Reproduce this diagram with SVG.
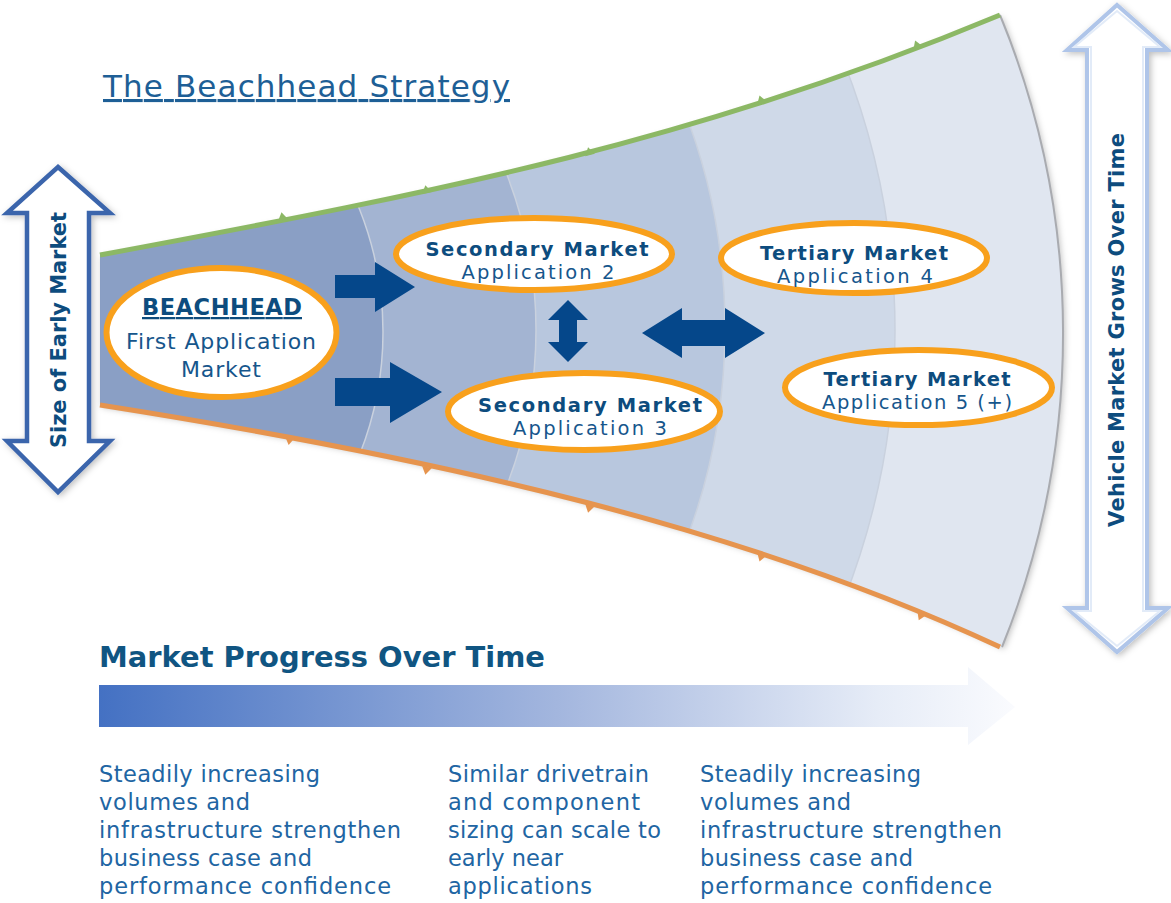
<svg xmlns="http://www.w3.org/2000/svg" width="1171" height="903" viewBox="0 0 1171 903">
<defs>
<style>
.node{fill:#fff;stroke:#f8a01c;stroke-width:6}
.bold{font-family:"DejaVu Sans","Liberation Sans",sans-serif;font-weight:700;fill:#0d4c7e;text-anchor:middle}
.reg{font-family:"DejaVu Sans","Liberation Sans",sans-serif;font-weight:400;fill:#16568c;text-anchor:middle}
.body{font-family:"DejaVu Sans","Liberation Sans",sans-serif;font-size:22.5px;fill:#2165a3}
.conn{fill:#05478a}
.div{stroke:#c9d1de;stroke-width:1.5}
.tickg{fill:#8cb865}
.ticko{fill:#e6944e}
</style>
<clipPath id="fclip"><path d="M100,255 C450,190 700,140 1000,15 A836,836 0 0 1 1002,647 C750,530 450,460 100,405 Z"/></clipPath>
<linearGradient id="prog" gradientUnits="userSpaceOnUse" x1="99" y1="0" x2="1015" y2="0">
<stop offset="0" stop-color="#4471c3"/>
<stop offset="0.5" stop-color="#a3b6de"/>
<stop offset="0.85" stop-color="#e6ecf7"/>
<stop offset="1" stop-color="#fafbfe"/>
</linearGradient>
<filter id="sh" x="-30%" y="-10%" width="160%" height="120%">
<feDropShadow dx="2" dy="2" stdDeviation="3" flood-color="#000" flood-opacity="0.25"/>
</filter>
</defs>
<rect width="1171" height="903" fill="#fff"/>

<text x="103" y="97" font-family="'DejaVu Sans','Liberation Sans',sans-serif" font-size="31" fill="#1e5f96" text-decoration="underline" textLength="407" lengthAdjust="spacing">The Beachhead Strategy</text>

<g id="funnel">
<path d="M100,255 C450,190 700,140 1000,15 A836,836 0 0 1 1002,647 C750,530 450,460 100,405 Z" fill="#e0e6f0" filter="url(#sh)"/>
<g clip-path="url(#fclip)">
<circle cx="162" cy="331" r="733" fill="#cfd9e8" class="div"/>
<circle cx="124" cy="328" r="601" fill="#b8c7de" class="div"/>
<circle cx="107" cy="330" r="429" fill="#a3b4d2" class="div"/>
<circle cx="50" cy="332" r="333" fill="#8a9fc5" class="div"/>
</g>
<path d="M1000,15 A836,836 0 0 1 1002,647" fill="none" stroke="#a9abb0" stroke-width="2"/>
<path d="M100,255 C450,190 700,140 1000,15" fill="none" stroke="#8cb865" stroke-width="5"/>
<path d="M100,405 C450,460 750,530 1000,647" fill="none" stroke="#e6944e" stroke-width="5"/>
<g class="tickg">
<polygon points="-5,0 5,0 0,-8" transform="translate(283,220) rotate(-11)"/>
<polygon points="-5,0 5,0 0,-8" transform="translate(427,193) rotate(-12)"/>
<polygon points="-5,0 5,0 0,-8" transform="translate(590,155) rotate(-14)"/>
<polygon points="-5,0 5,0 0,-8" transform="translate(762,103) rotate(-18)"/>
<polygon points="-5,0 5,0 0,-8" transform="translate(918,48) rotate(-21)"/>
</g>
<g class="ticko">
<polygon points="-5,0 5,0 0,8" transform="translate(290,437) rotate(10)"/>
<polygon points="-5,0 5,0 0,8" transform="translate(427,467) rotate(12)"/>
<polygon points="-5,0 5,0 0,8" transform="translate(590,505) rotate(14)"/>
<polygon points="-5,0 5,0 0,8" transform="translate(762,554) rotate(18)"/>
<polygon points="-5,0 5,0 0,8" transform="translate(922,613) rotate(24)"/>
</g>
</g>

<g id="size-arrow">
<path d="M58,167 L110,213 L89,213 L89,441 L110,441 L58,492 L7,441 L27,441 L27,213 L7,213 Z" fill="#fff" stroke="#3b65ac" stroke-width="4.5" stroke-linejoin="miter" filter="url(#sh)"/>
<text transform="translate(66,330) rotate(-90)" x="0" y="0" class="bold" font-size="21" fill="#0d4f7c" textLength="236" lengthAdjust="spacing">Size of Early Market</text>
</g>

<g id="vehicle-arrow">
<path d="M1117,5 L1168,50 L1147,50 L1147,608 L1168,608 L1117,652 L1067,608 L1087,608 L1087,50 L1067,50 Z" fill="#fff" stroke="#afc5e9" stroke-width="4" filter="url(#sh)"/>
<path d="M1117,11 L1160,47 L1143,47 L1143,611 L1160,611 L1117,646 L1074,611 L1091,611 L1091,47 L1074,47 Z" fill="none" stroke="#e2ebf8" stroke-width="2"/>
<text transform="translate(1124,330) rotate(-90)" x="0" y="0" class="bold" font-size="21" fill="#0d4f7c" textLength="394" lengthAdjust="spacing">Vehicle Market Grows Over Time</text>
</g>

<g id="connectors">
<path class="conn" d="M335,275 L375,275 L375,262 L415,287 L375,312 L375,298 L335,298 Z"/>
<path class="conn" d="M335,378 L390,378 L390,362 L442,392 L390,423 L390,406 L335,406 Z"/>
<path class="conn" d="M568,300 L588,320 L577,320 L577,342 L588,342 L568,362 L548,342 L559,342 L559,320 L548,320 Z"/>
<path class="conn" d="M642,333 L682,308 L682,320 L725,320 L725,308 L765,333 L725,358 L725,346 L682,346 L682,358 Z"/>
</g>

<g id="beachhead">
<ellipse class="node" cx="221.5" cy="332.5" rx="115" ry="64.5"/>
<text class="bold" x="222" y="315" font-size="22.5" text-decoration="underline" textLength="160" lengthAdjust="spacing">BEACHHEAD</text>
<text class="reg" x="221" y="349" font-size="22" textLength="190" lengthAdjust="spacing">First Application</text>
<text class="reg" x="221" y="377" font-size="22" textLength="80" lengthAdjust="spacing">Market</text>
</g>

<g id="secondary2">
<ellipse class="node" cx="534" cy="254" rx="138" ry="36"/>
<text class="bold" x="537" y="255.5" font-size="19.5" textLength="223" lengthAdjust="spacing">Secondary Market</text>
<text class="reg" x="538" y="278.5" font-size="19.5" textLength="153" lengthAdjust="spacing">Application 2</text>
</g>

<g id="secondary3">
<ellipse class="node" cx="584" cy="411.5" rx="136" ry="38.5"/>
<text class="bold" x="590" y="411.5" font-size="19.5" textLength="224" lengthAdjust="spacing">Secondary Market</text>
<text class="reg" x="590" y="434.5" font-size="19.5" textLength="154" lengthAdjust="spacing">Application 3</text>
</g>

<g id="tertiary4">
<ellipse class="node" cx="854" cy="258" rx="133" ry="35"/>
<text class="bold" x="854" y="259.5" font-size="19.5" textLength="188" lengthAdjust="spacing">Tertiary Market</text>
<text class="reg" x="855" y="282.5" font-size="19.5" textLength="156" lengthAdjust="spacing">Application 4</text>
</g>

<g id="tertiary5">
<ellipse class="node" cx="918.5" cy="387.5" rx="133.5" ry="37.5"/>
<text class="bold" x="917" y="386" font-size="19.5" textLength="187" lengthAdjust="spacing">Tertiary Market</text>
<text class="reg" x="917" y="409" font-size="19.5" textLength="190" lengthAdjust="spacing">Application 5 (+)</text>
</g>

<g id="progress">
<text x="99" y="667" font-family="'DejaVu Sans','Liberation Sans',sans-serif" font-weight="700" font-size="28.5" fill="#105582" textLength="446" lengthAdjust="spacingAndGlyphs">Market Progress Over Time</text>
<path d="M99,685 L968,685 L968,667 L1015,707 L968,745 L968,727 L99,727 Z" fill="url(#prog)"/>
</g>

<g id="note1" class="body">
<text x="99" y="782" textLength="221" lengthAdjust="spacing">Steadily increasing</text>
<text x="99" y="810" textLength="151" lengthAdjust="spacing">volumes and</text>
<text x="99" y="838" textLength="302" lengthAdjust="spacing">infrastructure strengthen</text>
<text x="99" y="866" textLength="213" lengthAdjust="spacing">business case and</text>
<text x="99" y="894" textLength="292" lengthAdjust="spacing">performance confidence</text>
</g>
<g id="note2" class="body">
<text x="448" y="782" textLength="201" lengthAdjust="spacing">Similar drivetrain</text>
<text x="448" y="810" textLength="192" lengthAdjust="spacing">and component</text>
<text x="448" y="838" textLength="213" lengthAdjust="spacing">sizing can scale to</text>
<text x="448" y="866" textLength="115" lengthAdjust="spacing">early near</text>
<text x="448" y="894" textLength="144" lengthAdjust="spacing">applications</text>
</g>
<g id="note3" class="body">
<text x="700" y="782" textLength="221" lengthAdjust="spacing">Steadily increasing</text>
<text x="700" y="810" textLength="151" lengthAdjust="spacing">volumes and</text>
<text x="700" y="838" textLength="302" lengthAdjust="spacing">infrastructure strengthen</text>
<text x="700" y="866" textLength="213" lengthAdjust="spacing">business case and</text>
<text x="700" y="894" textLength="292" lengthAdjust="spacing">performance confidence</text>
</g>
</svg>
